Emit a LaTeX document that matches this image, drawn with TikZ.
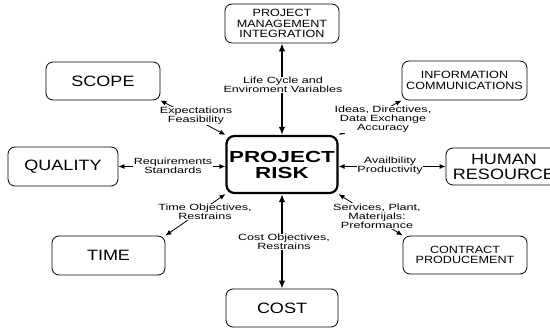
\documentclass[tikz,border=0pt]{standalone}
\usepackage{fontspec}
\setmainfont[FakeStretch=1.2]{Liberation Sans}
\newfontfamily\edgefont[FakeStretch=1.4]{Liberation Sans}
\usetikzlibrary{arrows.meta}

\tikzset{
  box/.style={draw, rounded corners=7pt, line width=0.8pt, align=center, inner sep=0pt},
  bigbox/.style={box, font=\fontsize{15}{15}\selectfont},
  smallbox/.style={box, font=\fontsize{10.5}{10.5}\selectfont},
  riskbox/.style={draw, rounded corners=8pt, line width=2.2pt, align=center, inner sep=0pt,
    font=\edgefont\bfseries\fontsize{16}{16}\selectfont},
  link/.style={{Latex[length=6pt,width=5pt]}-{Latex[length=6pt,width=5pt]}, line width=0.8pt},
  mainlink/.style={{Latex[length=8pt,width=6.5pt]}-{Latex[length=8pt,width=6.5pt]}, line width=2.2pt},
  lbl/.style={fill=white, inner sep=0.5pt, align=center, font=\edgefont\fontsize{9}{9}\selectfont}
}

\begin{document}
\begin{tikzpicture}[x=1pt, y=-1pt]
    \useasboundingbox (0,0) rectangle (550,328);

    % centre
    \node[riskbox, minimum width=111pt, minimum height=57pt] (risk) at (282,164.5) {PROJECT\\RISK};

    % areas around it
    \node[smallbox, minimum width=114pt, minimum height=39pt] (pmi) at (282,23.5) {PROJECT\\MANAGEMENT\\INTEGRATION};
    \node[bigbox, minimum width=114pt, minimum height=38pt] (scope) at (103,81) {SCOPE};
    \node[smallbox, minimum width=125pt, minimum height=39pt] (info) at (464.5,80.5) {INFORMATION\\COMMUNICATIONS};
    \node[bigbox, minimum width=110pt, minimum height=39pt] (quality) at (63,166.5) {QUALITY};
    \node[bigbox, minimum width=116pt, minimum height=37pt] (human) at (504,166.5) {HUMAN\\RESOURCE};
    \node[bigbox, minimum width=113pt, minimum height=39pt] (time) at (108.5,255.5) {TIME};
    \node[smallbox, minimum width=124pt, minimum height=38pt] (contract) at (465,255) {CONTRACT\\PRODUCEMENT};
    \node[bigbox, minimum width=112pt, minimum height=38pt] (cost) at (282,308) {COST};

    % connections
    \draw[mainlink] (pmi.south) -- (risk.north);
    \draw[mainlink] (cost.north) -- (risk.south);
    \draw[link] (scope.south east) -- (risk.north west);
    \draw[link] (info.south west) -- (risk.north east);
    \draw[link] (quality.east) -- (quality.east -| risk.west);
    \draw[link] (risk.east |- human.west) -- (human.west);
    \draw[link] (time.north east) -- (risk.south west);
    \draw[link] (contract.north west) -- (risk.south east);

    % what passes along them
    \node[lbl] (lifecycle) at (283,85) {Life Cycle and\\Enviroment Variables};
    \node[lbl] (expect) at (196,116) {Expectations\\Feasibility};
    \node[lbl] (ideas) at (383,119.5) {Ideas, Directives,\\Data Exchange\\Accuracy};
    \node[lbl] (require) at (173,165.5) {Requirements\\Standards};
    \node[lbl] (avail) at (390,165.5) {Availbility\\Productivity};
    \node[lbl] (timeobj) at (205,212) {Time Objectives,\\Restrains};
    \node[lbl] (costobj) at (284,242) {Cost Objectives,\\Restrains};
    \node[lbl] (services) at (377,216) {Services, Plant,\\Materijals:\\Preformance};
\end{tikzpicture}
\end{document}
